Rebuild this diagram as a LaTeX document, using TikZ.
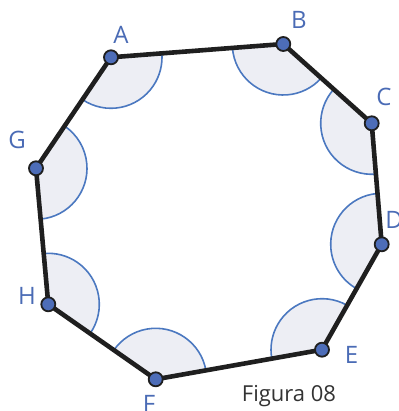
\documentclass[tikz,border=0pt]{standalone}
\usepackage{fontspec}
\setmainfont{Open Sans}
\usetikzlibrary{angles}
\definecolor{ptblue}{HTML}{4D6DB8}
\definecolor{arcblue}{HTML}{4B78C0}
\definecolor{arcfill}{HTML}{EDEEF4}
\definecolor{lblblue}{HTML}{4A6BB5}
\tikzset{
  angarc/.style={draw=arcblue, line width=1.6pt, fill=arcfill, angle radius=51pt},
  side/.style={line width=4.6pt, draw=black!88, line join=round},
  pt/.style={circle, fill=ptblue, draw=black!88, line width=1.8pt, minimum size=14pt, inner sep=0pt},
  lbl/.style={text=lblblue, font=\fontsize{24}{24}\selectfont, inner sep=0pt},
}
\begin{document}
\begin{tikzpicture}[x=1pt,y=-1pt]
\useasboundingbox (0,0) rectangle (398,411);
\coordinate (A) at (111,57.3);
\coordinate (B) at (283.3,44);
\coordinate (C) at (371.7,123.3);
\coordinate (D) at (381.7,244.3);
\coordinate (E) at (322,349.7);
\coordinate (F) at (155.7,379.3);
\coordinate (H) at (48.3,304.3);
\coordinate (G) at (36,168.3);
\pic[angarc] {angle = G--A--B};
\pic[angarc] {angle = A--B--C};
\pic[angarc] {angle = B--C--D};
\pic[angarc] {angle = C--D--E};
\pic[angarc] {angle = D--E--F};
\pic[angarc] {angle = E--F--H};
\pic[angarc] {angle = F--H--G};
\pic[angarc] {angle = H--G--A};
\draw[side] (A) -- (B) -- (C) -- (D) -- (E) -- (F) -- (H) -- (G) -- cycle;
\foreach \p in {A,B,C,D,E,F,G,H} \node[pt] (p\p) at (\p) {};
\node[lbl] (lA) at (121,35) {A};
\node[lbl] (lB) at (299,20) {B};
\node[lbl] (lC) at (384,97) {C};
\node[lbl] (lD) at (394,220) {D};
\node[lbl] (lE) at (351.5,355) {E};
\node[lbl] (lF) at (149,403.5) {F};
\node[lbl] (lG) at (17,140) {G};
\node[lbl] (lH) at (27,296) {H};
\node[text=black!80, font=\fontsize{22}{22}\selectfont, inner sep=0pt] (cap) at (289,396.5) {Figura 08};
\end{tikzpicture}
\end{document}
